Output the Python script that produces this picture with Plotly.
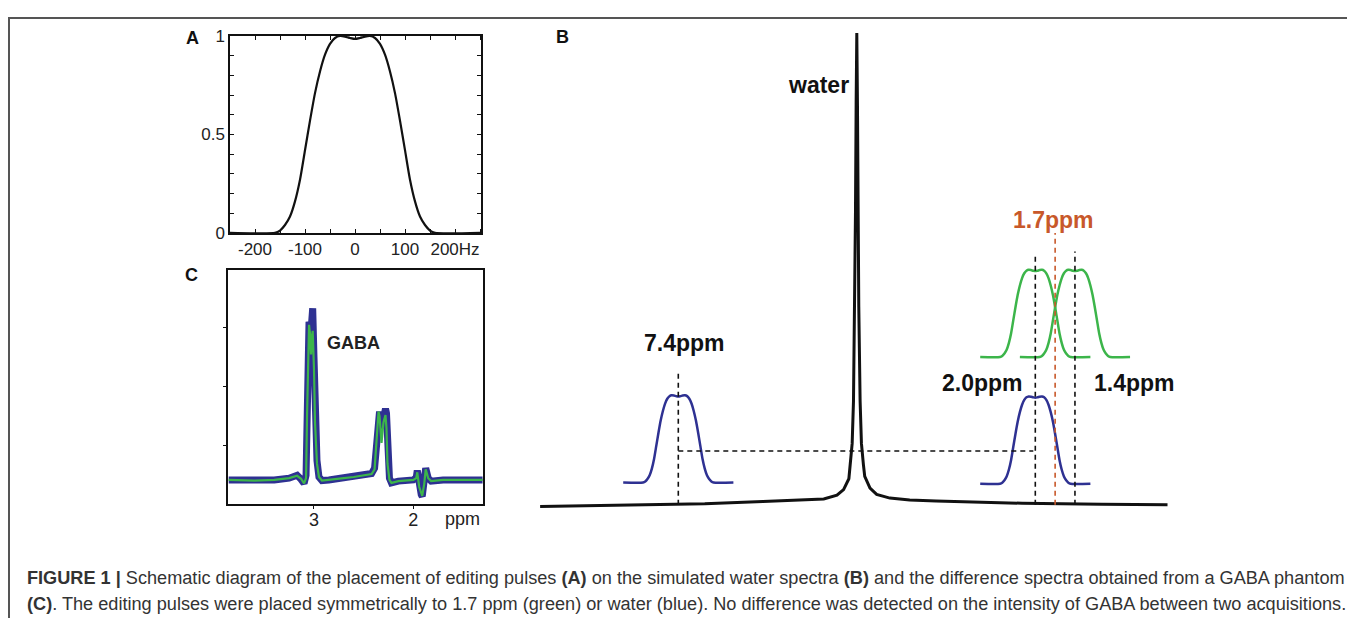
import plotly.graph_objects as go

# Page geometry: the figure is placed on the page at an offset and the photo is slightly squeezed
# vertically; target positions below are in the reference picture's pixel space (1355 x 618).
OX = 8
OYP, SY = 17.5, 0.97
FW, FH = 1347, 620

# ---------------- data ----------------
# Panel A: editing pulse profile (Hz, normalised amplitude)
pulse_hz = [-250, -160, -150, -140, -130, -120, -110, -100, -90, -80, -70, -60, -50, -40, -30, -20, -10, 0,
            10, 20, 30, 40, 50, 60, 70, 80, 90, 100, 110, 120, 130, 140, 150, 160, 250]
pulse_amp = [0, 0, 0.012, 0.04, 0.083, 0.16, 0.27, 0.42, 0.57, 0.71, 0.82, 0.905, 0.96, 0.99, 1.0, 0.997, 0.99, 0.985,
             0.99, 0.997, 1.0, 0.99, 0.96, 0.905, 0.82, 0.71, 0.57, 0.42, 0.27, 0.16, 0.083, 0.04, 0.012, 0, 0]
a_xticks = [-200, -100, 0, 100, 200]
a_xticklabels = ["-200", "-100", "0", "100", "200Hz"]
a_yticks = [0, 0.5, 1]
a_yticklabels = ["0", "0.5", "1"]

# Panel B: simulated water spectrum (ppm, relative intensity)
water_ppm = [9.49, 8.0, 7.0, 6.12, 5.5, 5.2, 5.0, 4.9, 4.82, 4.8, 4.77, 4.75, 4.73, 4.72, 4.71, 4.70,
             4.69, 4.68, 4.67, 4.65, 4.63, 4.6, 4.58, 4.5, 4.4, 4.2, 3.9, 3.5, 3.0, 2.2, 1.0, 0.0]
water_int = [-0.004, -0.001, 0.002, 0.007, 0.0095, 0.012, 0.02, 0.032, 0.055, 0.085, 0.13, 0.22, 0.42, 0.62,
             0.85, 1.0, 0.85, 0.62, 0.42, 0.22, 0.13, 0.085, 0.06, 0.035, 0.022, 0.014, 0.010, 0.008, 0.006,
             0.003, 0.001, 0.0]
blue_centers_ppm = [7.4, 2.0]
blue_base = [0.047, 0.0445]
green_centers_ppm = [2.0, 1.4]
green_base = [0.313, 0.313]
pulse_height_b = 0.185
hz_per_ppm_b = 300
mid_ppm = 1.7

# Panel C: GABA difference spectra (ppm, a.u.)
c_ppm = [3.86, 3.6, 3.4, 3.25, 3.17, 3.13, 3.10, 3.08, 3.07, 3.06, 3.05, 3.04, 3.03, 3.02, 3.013, 3.00, 2.99,
         2.97, 2.95, 2.92, 2.85, 2.7, 2.6, 2.5, 2.42, 2.39, 2.37, 2.35, 2.34, 2.32, 2.30, 2.28, 2.27, 2.26,
         2.24, 2.22, 2.15, 2.0, 1.97, 1.96, 1.94, 1.92, 1.91, 1.89, 1.875, 1.85, 1.82, 1.7, 1.5, 1.3]
c_blue = [0.42, 0.42, 0.42, 0.45, 0.50, 0.43, 0.36, 0.50, 1.6, 2.7, 3.1, 3.05, 2.95, 3.2, 3.33, 2.5, 1.5,
          0.75, 0.47, 0.41, 0.42, 0.45, 0.48, 0.50, 0.53, 0.62, 1.2, 1.55, 1.58, 1.3, 1.5, 1.63, 1.55, 0.8,
          0.45, 0.37, 0.40, 0.42, 0.46, 0.58, 0.30, 0.17, 0.14, 0.40, 0.62, 0.45, 0.40, 0.42, 0.42, 0.42]
c_green = [0.42, 0.41, 0.42, 0.45, 0.49, 0.44, 0.36, 0.45, 1.5, 2.6, 3.05, 2.9, 2.55, 2.85, 2.95, 2.3, 1.4,
           0.70, 0.47, 0.41, 0.42, 0.45, 0.47, 0.50, 0.52, 0.60, 1.2, 1.58, 1.5, 1.05, 1.4, 1.52, 1.3, 0.7,
           0.42, 0.37, 0.40, 0.42, 0.45, 0.55, 0.30, 0.18, 0.15, 0.35, 0.60, 0.45, 0.40, 0.42, 0.42, 0.42]
c_xticks = [3, 2]
c_xticklabels = ["3", "2"]
c_yticks = [1, 2, 3]

# ---------------- styles ----------------
BLUE = "#2e3192"
GREEN = "#3cb54a"
ORANGE = "#c8582a"
FR = "Liberation Sans, Arial, sans-serif"


def px(x):
    return (x - OX) / FW


def py(y):
    return 1 - (y / SY - OYP) / FH


def xd(p0, p1):
    return [px(p0), px(p1)]


def yd(top, bottom):
    return [py(bottom), py(top)]


fig = go.Figure()

# Panel A
fig.add_trace(go.Scatter(x=pulse_hz, y=pulse_amp, mode="lines", xaxis="x", yaxis="y",
                         line=dict(color="#111", width=2.2, shape="spline", smoothing=0.6)))

# Panel B water
fig.add_trace(go.Scatter(x=water_ppm, y=water_int, mode="lines", xaxis="x2", yaxis="y2",
                         line=dict(color="#111", width=3)))
# Panel B pulses
for c, b in zip(blue_centers_ppm, blue_base):
    fig.add_trace(go.Scatter(x=[c - h / hz_per_ppm_b for h in pulse_hz],
                             y=[b + pulse_height_b * a for a in pulse_amp],
                             mode="lines", xaxis="x2", yaxis="y2",
                             line=dict(color=BLUE, width=2.5, shape="spline", smoothing=0.6)))
for c, b in zip(green_centers_ppm, green_base):
    fig.add_trace(go.Scatter(x=[c - h / hz_per_ppm_b for h in pulse_hz],
                             y=[b + pulse_height_b * a for a in pulse_amp],
                             mode="lines", xaxis="x2", yaxis="y2",
                             line=dict(color=GREEN, width=2.5, shape="spline", smoothing=0.6)))

# dashed guide lines in B
dash = "5px,4px"
guides = [
    (blue_centers_ppm[0], blue_centers_ppm[0], 0.0, 0.282, "#111"),
    (blue_centers_ppm[0], 2.03, 0.114, 0.114, "#111"),
    (green_centers_ppm[0], green_centers_ppm[0], 0.0, 0.532, "#111"),
    (green_centers_ppm[1], green_centers_ppm[1], 0.0, 0.537, "#111"),
    (mid_ppm, mid_ppm, 0.0, 0.576, ORANGE),
]
for x0, x1, y0, y1, col in guides:
    fig.add_trace(go.Scatter(x=[x0, x1], y=[y0, y1], mode="lines", xaxis="x2", yaxis="y2",
                             line=dict(color=col, width=1.6, dash=dash)))

# Panel C
fig.add_trace(go.Scatter(x=c_ppm, y=c_blue, mode="lines", xaxis="x3", yaxis="y3",
                         line=dict(color=BLUE, width=7)))
fig.add_trace(go.Scatter(x=c_ppm, y=c_green, mode="lines", xaxis="x3", yaxis="y3",
                         line=dict(color=GREEN, width=2.2)))

# ---------------- layout ----------------
axA = dict(showline=True, linecolor="#111", linewidth=1.5, mirror="ticks", ticks="inside",
           ticklen=4, tickcolor="#111", showgrid=False, zeroline=False,
           tickfont=dict(family=FR, size=17, color="#222"))
ppm_at = lambda p: 4.7 - (p - 856.8) / 66.11
v_at = lambda p: (505 - p) / 472
b_x0, b_x1, b_y0, b_y1 = 530, 1180, 20, 515

fig.update_layout(
    width=FW, height=FH, margin=dict(l=0, r=0, t=0, b=0),
    paper_bgcolor="white", plot_bgcolor="rgba(0,0,0,0)", showlegend=False,
    xaxis=dict(axA, domain=xd(230, 481), range=[-250, 252], tickvals=a_xticks, ticktext=a_xticklabels,
               anchor="y", minor=dict(dtick=50, tick0=0, ticks="inside", ticklen=4, tickcolor="#111")),
    yaxis=dict(axA, domain=yd(36, 233), range=[0, 1], tickvals=a_yticks, ticktext=a_yticklabels,
               anchor="x", minor=dict(dtick=0.1, tick0=0, ticks="inside", ticklen=4, tickcolor="#111")),
    xaxis2=dict(domain=xd(b_x0, b_x1), range=[ppm_at(b_x0), ppm_at(b_x1)], visible=False, anchor="y2"),
    yaxis2=dict(domain=yd(b_y0, b_y1), range=[v_at(b_y1), v_at(b_y0)], visible=False, anchor="x2"),
    xaxis3=dict(domain=xd(228.3, 482.7), range=[3.863, 1.301], showline=True, linecolor="#111", linewidth=1.5,
                mirror=True, ticks="outside", ticklen=4, tickcolor="#111", tickvals=c_xticks,
                ticktext=c_xticklabels, showgrid=False, zeroline=False, anchor="y3",
                ticklabelstandoff=-5, tickfont=dict(family=FR, size=18, color="#222")),
    yaxis3=dict(domain=yd(270, 504), range=[0.017, 3.983], showline=True, linecolor="#111", linewidth=1.5,
                mirror=True, ticks="outside", ticklen=4, tickcolor="#111", tickvals=c_yticks,
                showticklabels=False, showgrid=False, zeroline=False, anchor="x3"),
)

ann = []


def px_ann(text, x, y, size, color="#111", xanchor="center"):
    ann.append(dict(text=text, x=px(x), y=py(y), xref="paper", yref="paper", showarrow=False,
                    xanchor=xanchor, yanchor="middle", font=dict(family=FR, size=size, color=color)))


def b_ann(text, ppm, v, color="#111"):
    ann.append(dict(text="<b>%s</b>" % text, x=ppm, y=v, xref="x2", yref="y2", showarrow=False,
                    xanchor="center", yanchor="middle", font=dict(family=FR, size=23, color=color)))


# panel letters
px_ann("<b>A</b>", 192, 38, 18)
px_ann("<b>B</b>", 562, 37, 18)
px_ann("<b>C</b>", 191, 275, 18)
px_ann("ppm", 462, 519, 18, color="#222")
px_ann("<b>GABA</b>", 353, 343, 18, color="#222")

b_ann("water", 5.28, 0.89)
b_ann("7.4ppm", 7.3, 0.343)
b_ann("2.0ppm", 2.80, 0.258)
b_ann("1.4ppm", 0.507, 0.258)
b_ann("1.7ppm", 1.73, 0.604, color=ORANGE)

cap1 = ("<b>FIGURE 1 |</b> Schematic diagram of the placement of editing pulses <b>(A)</b> on the simulated "
        "water spectra <b>(B)</b> and the difference spectra obtained from a GABA phantom")
cap2 = ("<b>(C)</b>. The editing pulses were placed symmetrically to 1.7 ppm (green) or water (blue). "
        "No difference was detected on the intensity of GABA between two acquisitions.")
px_ann(cap1, 25, 578, 18.15, color="#333", xanchor="left")
px_ann(cap2, 25, 604, 18.15, color="#333", xanchor="left")
fig.update_layout(annotations=ann)

# frame lines
fig.update_layout(shapes=[
    dict(type="line", xref="paper", yref="paper", x0=px(8), x1=1, y0=1 - 1 / FH, y1=1 - 1 / FH,
         line=dict(color="#555", width=2)),
    dict(type="line", xref="paper", yref="paper", x0=px(9), x1=px(9), y0=1, y1=0,
         line=dict(color="#555", width=2)),
])

fig.write_html("out.html")
